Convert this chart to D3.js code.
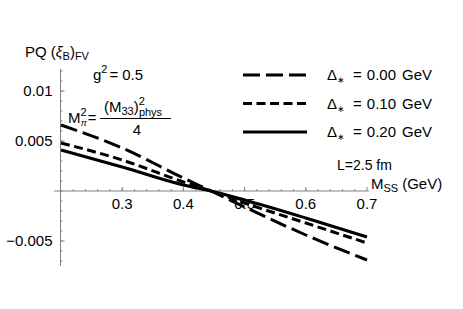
<!DOCTYPE html>
<meta charset="utf-8">
<style>
  body { margin: 0; background: #fff; }
  text { font-family: "Liberation Sans", Arial, sans-serif; fill: #000; }
  .axis path, .axis line { stroke: #808080; }
</style>
<body>
<svg id="chart" width="463" height="309"></svg>
</body>
<script src="https://d3js.org/d3.v7.min.js"></script>
<script>

// data
var mss = [0.2, 0.3, 0.4, 0.445, 0.5, 0.6, 0.7];
var delta000 = [0.0066, 0.0043, 0.0013, 0.0, -0.0016, -0.0044, -0.0069];
var delta010 = [0.0048, 0.0031, 0.0009, 0.0, -0.0012, -0.0032, -0.0052];
var delta020 = [0.0041, 0.0024, 0.0006, 0.0, -0.0009, -0.0027, -0.0046];
var seriesNames = ["0.00", "0.10", "0.20"];
var xTicks = [0.3, 0.4, 0.5, 0.6, 0.7];
var yTicks = [0.01, 0.005, -0.005];

var svg = d3.select("#chart");

var x = d3.scaleLinear().domain([0.2, 0.7]).range([61, 367]);
var y = d3.scaleLinear().domain([-0.0074, 0.0122]).range([265, 69]);

var dashes = ["17,6", "9,4.5", null];
var series = [delta000, delta010, delta020];

// axes
var xAxis = svg.append("g").attr("class", "axis")
    .attr("transform", "translate(0," + y(0) + ")");
xAxis.append("line").attr("x1", 54).attr("x2", 369);
xAxis.selectAll(".minor").data(d3.range(0.22, 0.7, 0.02)).enter().append("line")
    .attr("x1", x).attr("x2", x).attr("y1", 0).attr("y2", -2);
xAxis.selectAll(".major").data(xTicks).enter().append("line")
    .attr("x1", x).attr("x2", x).attr("y1", 0).attr("y2", -4);
xAxis.selectAll("text").data(xTicks).enter().append("text")
    .attr("x", x).attr("y", 18)
    .attr("text-anchor", "middle")
    .style("font-size", "15px")
    .text(function(d) { return d3.format(".1f")(d); });

var yAxis = svg.append("g").attr("class", "axis")
    .attr("transform", "translate(" + (x(0.2) - 0.5) + ",0)");
yAxis.append("line").attr("y1", 69).attr("y2", 266);
yAxis.selectAll(".minor").data(d3.range(-7, 13).map(function(i) { return i / 1000; })).enter().append("line")
    .attr("y1", y).attr("y2", y).attr("x1", 0).attr("x2", 2);
yAxis.selectAll(".major").data(yTicks).enter().append("line")
    .attr("y1", y).attr("y2", y).attr("x1", 0).attr("x2", 4);
yAxis.selectAll("text").data(yTicks).enter().append("text")
    .attr("x", -8).attr("y", function(d) { return y(d) + 5; })
    .attr("text-anchor", "end")
    .style("font-size", "15px")
    .text(function(d) { return d3.format("")(d).replace("-", "\u2212"); });

// curves
var line = d3.line()
    .x(function(d, i) { return x(mss[i]); })
    .y(function(d) { return y(d); })
    .curve(d3.curveMonotoneX);

svg.selectAll(".curve").data(series).enter().append("path")
    .attr("class", "curve")
    .attr("d", line)
    .attr("fill", "none")
    .attr("stroke", "#000")
    .attr("stroke-width", 3)
    .attr("stroke-dasharray", function(d, i) { return dashes[i]; });

// legend
var legend = svg.selectAll(".legend").data(seriesNames).enter().append("g")
    .attr("class", "legend")
    .attr("transform", function(d, i) { return "translate(243," + (75 + i * 28.5) + ")"; });
legend.append("line")
    .attr("x1", 0).attr("x2", 64)
    .attr("stroke", "#000").attr("stroke-width", 3)
    .attr("stroke-dasharray", function(d, i) { return dashes[i]; });
var lt = legend.append("text").attr("x", 84).attr("y", 5).style("font-size", "15px");
lt.append("tspan").text("\u0394");
lt.append("tspan").attr("dy", 3).style("font-size", "9px").text("\u2217");
lt.append("tspan").attr("dx", 8).attr("dy", -3).text("=");
lt.append("tspan").attr("dx", 5).text(function(d) { return d; });
lt.append("tspan").attr("dx", 6).text("GeV");

// axis labels
var yl = svg.append("text").attr("x", 25).attr("y", 57).style("font-size", "15px");
yl.append("tspan").text("PQ (");
yl.append("tspan").style("font-style", "italic").text("\u03be");
yl.append("tspan").attr("dy", 3).style("font-size", "11px").text("B");
yl.append("tspan").attr("dy", -3).text(")");
yl.append("tspan").attr("dy", 3).style("font-size", "11px").text("FV");

var xl = svg.append("text").attr("x", 371).attr("y", 189).style("font-size", "15px");
xl.append("tspan").text("M");
xl.append("tspan").attr("dy", 3).style("font-size", "11px").text("SS");
xl.append("tspan").attr("dx", 4).attr("dy", -3).text("(GeV)");

// annotations
var g2 = svg.append("text").attr("x", 93).attr("y", 80).style("font-size", "15px");
g2.append("tspan").text("g");
g2.append("tspan").attr("dy", -7).style("font-size", "11px").text("2");
g2.append("tspan").attr("dx", 2).attr("dy", 7).text("=");
g2.append("tspan").attr("dx", 4).text("0.5");

var mp = svg.append("text").attr("x", 68).attr("y", 123).style("font-size", "15px");
mp.append("tspan").text("M");
mp.append("tspan").attr("dx", 0).attr("dy", -7).style("font-size", "11px").text("2");
mp.append("tspan").attr("dx", -6).attr("dy", 10).style("font-size", "9px").style("font-style", "italic").text("\u03c0");
mp.append("tspan").attr("dx", 1).attr("dy", -3).text("=");

svg.append("line").attr("x1", 100).attr("x2", 171).attr("y1", 118.5).attr("y2", 118.5)
    .attr("stroke", "#000").attr("stroke-width", 1);
var num = svg.append("text").attr("x", 104).attr("y", 112).style("font-size", "15px");
num.append("tspan").text("(M");
num.append("tspan").attr("dy", 3).style("font-size", "11px").text("33");
num.append("tspan").attr("dy", -3).text(")");
num.append("tspan").attr("dy", -7).style("font-size", "11px").text("2");
num.append("tspan").attr("dx", -6).attr("dy", 11).style("font-size", "11px").text("phys");
svg.append("text").attr("x", 137).attr("y", 135).attr("text-anchor", "middle")
    .style("font-size", "15px").text("4");

svg.append("text").attr("x", 337).attr("y", 170).style("font-size", "14px").text("L=2.5 fm");

</script>
